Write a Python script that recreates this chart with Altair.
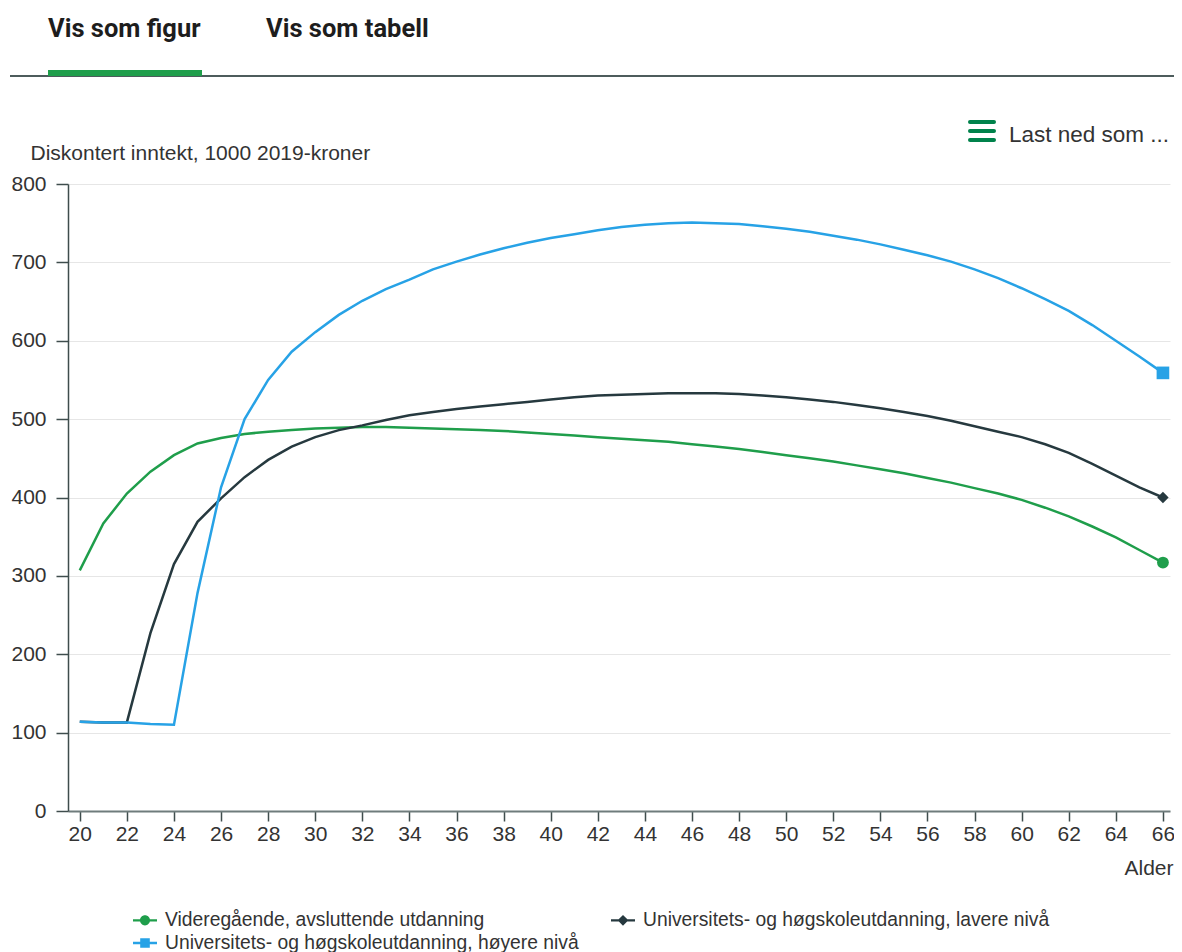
import altair as alt
import pandas as pd

# ---------------- data ----------------
ages = list(range(20, 67))
series_names = [
    "Videregående, avsluttende utdanning",
    "Universitets- og høgskoleutdanning, lavere nivå",
    "Universitets- og høgskoleutdanning, høyere nivå",
]
vgs = [307, 367, 405, 433, 454, 469, 476, 481, 484, 486, 488, 489, 490, 490, 489, 488,
       487, 486, 485, 483, 481, 479, 477, 475, 473, 471, 468, 465, 462, 458, 454, 450,
       446, 441, 436, 431, 425, 419, 412, 405, 397, 387, 376, 363, 349, 333, 317]
lavere = [114, 113, 113, 227, 315, 369, 399, 426, 448, 465, 477, 486, 492, 499, 505, 509,
          513, 516, 519, 522, 525, 528, 530, 531, 532, 533, 533, 533, 532, 530, 528, 525,
          522, 518, 514, 509, 504, 498, 491, 484, 477, 468, 457, 443, 428, 413, 400]
hoyere = [114, 113, 113, 111, 110, 278, 413, 500, 550, 586, 611, 633, 651, 666, 678, 691,
          701, 710, 718, 725, 731, 736, 741, 745, 748, 750, 751, 750, 749, 746, 743, 739,
          734, 729, 723, 716, 709, 701, 691, 680, 667, 653, 638, 620, 600, 580, 559]
x_ticks = list(range(20, 67, 2))
y_ticks = list(range(0, 801, 100))

# ---------------- styles ----------------
colors = ["#1f9e4b", "#26393f", "#27a2e6"]
end_shapes = ["circle", "diamond", "square"]
end_sizes = [140, 130, 160]
stub = "M-1,-0.1H-0.3V0.1H-1Z M0.3,-0.1H1V0.1H0.3Z "
legend_paths = [
    stub + "M-0.42,0A0.42,0.42 0 1,1 0.42,0A0.42,0.42 0 1,1 -0.42,0Z",
    stub + "M0,-0.45L0.45,0L0,0.45L-0.45,0Z",
    stub + "M-0.4,-0.4H0.4V0.4H-0.4Z",
]
FONT = "Liberation Sans"
TXT = "#333333"

rows = []
for name, vals in zip(series_names, [vgs, lavere, hoyere]):
    for a, v in zip(ages, vals):
        rows.append({"age": a, "value": v, "series": name})
df = pd.DataFrame(rows)

x_enc = alt.X(
    "age:Q",
    scale=alt.Scale(domain=[19.5, 66.3], nice=False, zero=False),
    axis=alt.Axis(
        values=x_ticks, title="Alder", grid=False,
        domainColor="#6f7c7c", domainWidth=2,
        tickColor="#3f4d4d", tickSize=10, tickWidth=1.5,
        labelFont=FONT, labelFontSize=21, labelColor=TXT, labelPadding=2,
        labelFlush=False, labelOverlap=False,
        titleFont=FONT, titleFontSize=21, titleFontWeight="normal", titleColor=TXT,
        titleX=1105, titleY=57, titleAlign="right", titleBaseline="middle",
    ),
)
y_enc = alt.Y(
    "value:Q",
    scale=alt.Scale(domain=[0, 800], nice=False),
    axis=alt.Axis(
        values=y_ticks, title="Diskontert inntekt, 1000 2019-kroner",
        grid=True, gridColor="#e6e6e6", gridWidth=1,
        domainColor="#3f4d4d", domainWidth=1.5,
        tickColor="#3f4d4d", tickSize=12, tickWidth=1.5,
        labelFont=FONT, labelFontSize=21, labelColor=TXT, labelPadding=10,
        titleFont=FONT, titleFontSize=21, titleFontWeight="normal", titleColor=TXT,
        titleAngle=0, titleX=-38, titleY=-31, titleAlign="left", titleBaseline="middle",
    ),
)

base = alt.Chart(df)
layers = []
# lines, drawn green -> dark -> blue so blue is on top
for name, col in zip(series_names, colors):
    layers.append(
        base.transform_filter(alt.datum.series == name)
        .mark_line(strokeWidth=2.5, color=col)
        .encode(x=x_enc, y=y_enc)
    )
# end-of-line markers
for name, col, shp, sz in zip(series_names, colors, end_shapes, end_sizes):
    layers.append(
        base.transform_filter((alt.datum.series == name) & (alt.datum.age == ages[-1]))
        .mark_point(filled=True, opacity=1, color=col, shape=shp, size=sz)
        .encode(x=x_enc, y=y_enc)
    )

# legend (only this layer carries series as colour/shape fields)
leg = alt.Legend(
    title=None, orient="none", direction="horizontal", legendX=65, legendY=724, columns=2,
    columnPadding=32, rowPadding=0, padding=0,
    symbolSize=576, symbolStrokeWidth=0, symbolOpacity=1,
    labelFont=FONT, labelFontSize=19.3, labelColor=TXT, labelOffset=8, labelLimit=0,
)
legend_layer = (
    alt.Chart(pd.DataFrame({"series": series_names}))
    .mark_point(filled=True, opacity=1, clip=True)
    .encode(
        x=alt.value(-500), y=alt.value(-500),
        color=alt.Color("series:N", scale=alt.Scale(domain=series_names, range=colors), legend=leg),
        shape=alt.Shape("series:N", scale=alt.Scale(domain=series_names, range=legend_paths), legend=leg),
    )
)
layers.append(legend_layer)

# ---------------- page decorations (tabs, download menu) ----------------
one = pd.DataFrame({"k": [0]})
def txt(text, x, y, size, weight="normal", font=FONT, color=TXT):
    return alt.Chart(one).mark_text(
        text=text, font=font, fontSize=size, fontWeight=weight, color=color,
        align="left", baseline="middle",
    ).encode(x=alt.value(x), y=alt.value(y))

def rule(x1, x2, y, color, w, cap="butt"):
    return alt.Chart(one).mark_rule(color=color, strokeWidth=w, strokeCap=cap).encode(
        x=alt.value(x1), x2=alt.value(x2), y=alt.value(y))

layers += [
    txt("Vis som figur", -20, -155, 25.5, "bold", "Roboto", "#1d1d1d"),
    txt("Vis som tabell", 198, -155, 25.5, "bold", "Roboto", "#1d1d1d"),
    rule(-58, 1106, -108, "#4d5c5c", 2),
    rule(-20, 134, -111, "#1f9e4b", 6),
    rule(902, 926, -62, "#00824b", 4, "round"),
    rule(902, 926, -53, "#00824b", 4, "round"),
    rule(902, 926, -44, "#00824b", 4, "round"),
    txt("Last ned som ...", 941, -49, 22.5),
]

chart = (
    alt.layer(*layers)
    .properties(
        width=1102, height=627,
        padding={"left": 60, "top": 176, "right": 4, "bottom": 141},
        autosize=alt.AutoSizeParams(type="none"),
        background="white",
    )
    .configure_view(stroke=None)
)
chart.save("out.html", embed_options={"renderer": "svg", "actions": False})
